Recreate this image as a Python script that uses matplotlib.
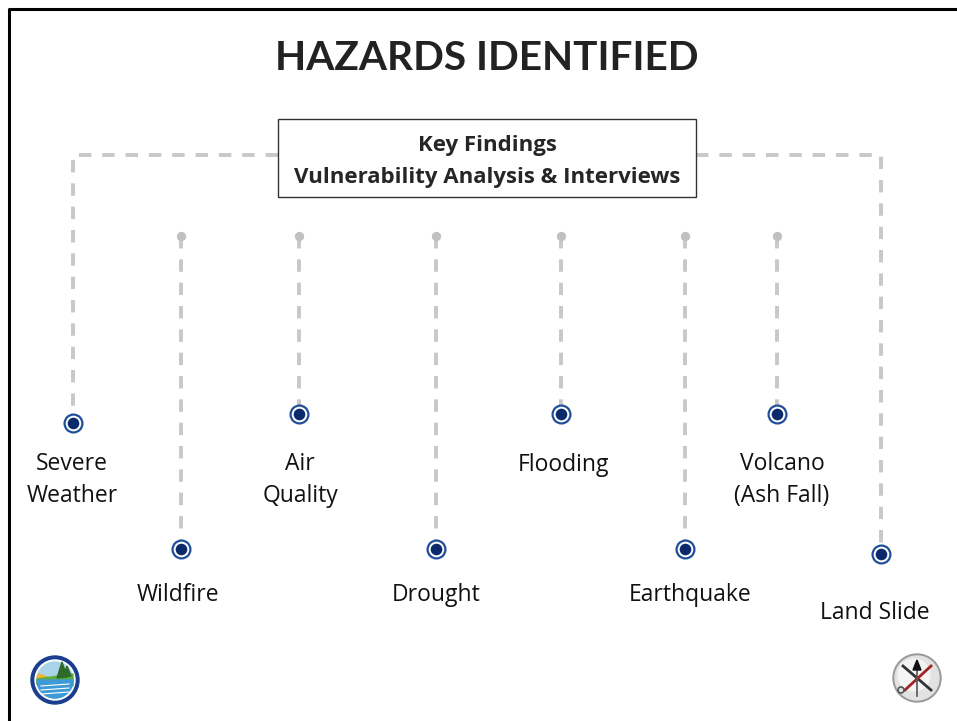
import matplotlib
matplotlib.use("Agg")
import matplotlib.pyplot as plt
from matplotlib.patches import Rectangle, Circle, Wedge, Polygon
import numpy as np

# ---- data ----
title = "HAZARDS IDENTIFIED"
box_lines = ["Key Findings", "Vulnerability Analysis & Interviews"]
hazards = ["Severe\nWeather", "Wildfire", "Air\nQuality", "Drought", "Flooding",
           "Earthquake", "Volcano\n(Ash Fall)", "Land Slide"]
hazard_x = [73, 181, 299, 436, 561, 685, 777, 881]
dot_y = [423, 549, 414, 549, 414, 549, 414, 554]
label_x = [72, 178, 300, 436, 564, 690, 782, 875]
label_y = [480, 595, 480, 595, 465, 595, 480, 613]
from_box = [True, False, False, False, False, False, False, True]
line_top = 236
branch_y = 155
box = (278, 119, 696, 197)

W, H = 957, 721
fig = plt.figure(figsize=(W / 100, H / 100), dpi=100)
ax = fig.add_axes([0, 0, 1, 1])
ax.set_xlim(0, W)
ax.set_ylim(H, 0)
ax.axis("off")

# slide border (left & top)
ax.plot([9, 9, W], [H, 9, 9], color="black", lw=2.2, solid_capstyle="butt")

ax.text(487, 58, title, ha="center", va="center", fontsize=29.2,
        fontweight="bold", family="Lato", color="#222222")

# box
x0, y0, x1, y1 = box
ax.add_patch(Rectangle((x0, y0), x1 - x0, y1 - y0, fill=False,
                       edgecolor="#333333", lw=1.0, zorder=3))
ax.text((x0 + x1) / 2, 145, box_lines[0], ha="center", va="center",
        fontsize=16, fontweight="bold", family="Open Sans", color="#262626")
ax.text((x0 + x1) / 2, 177, box_lines[1], ha="center", va="center",
        fontsize=16, fontweight="bold", family="Open Sans", color="#262626")

dash_kw = dict(color="#c8c8c8", lw=2.8, dashes=(3.2, 2.8), zorder=1)
for name, hx, dy, lx, ly, fb in zip(hazards, hazard_x, dot_y, label_x, label_y, from_box):
    if fb:
        bx = x0 if hx < x0 else x1
        ax.plot([bx, hx, hx], [branch_y, branch_y, dy], **dash_kw)
    else:
        ax.plot([hx, hx], [line_top, dy], **dash_kw)
        ax.scatter([hx], [line_top], s=45, color="#c0c0c0", zorder=2, linewidths=0)
    ax.scatter([hx], [dy], s=165, facecolor="white", edgecolor="#1f4e9a",
               linewidths=1.6, zorder=4)
    ax.scatter([hx], [dy], s=70, color="#0b2a6b", zorder=5, linewidths=0)
    ax.text(lx, ly, name, ha="center", va="center", fontsize=16.5,
            family="Open Sans", color="#111111", linespacing=1.45)

# left logo (landscape emblem)
cx, cy, r = 55, 680, 24
ax.add_patch(Circle((cx, cy), r, color="#1a3d8f", zorder=5))
ax.add_patch(Circle((cx, cy), r - 4, color="white", zorder=6))
ax.add_patch(Circle((cx, cy), r - 6, color="#a9d3e8", zorder=7))
ax.add_patch(Wedge((cx, cy), r - 6, 160, 200, color="#f2b233", zorder=7))
ax.add_patch(Polygon([[cx - 18, cy - 1], [cx + 18, cy - 6], [cx + 18, cy + 6], [cx - 18, cy + 4]],
                     closed=True, color="#5cae3a", zorder=8, clip_on=True))
ax.add_patch(Wedge((cx, cy), r - 6, 0, 180, color="#3d9ad6", zorder=8))
ax.add_patch(Polygon([[cx + 2, cy - 2], [cx + 7, cy - 18], [cx + 12, cy - 3]],
                     closed=True, color="#2e6b2a", zorder=9))
ax.add_patch(Polygon([[cx + 8, cy - 3], [cx + 12, cy - 14], [cx + 16, cy - 4]],
                     closed=True, color="#2e6b2a", zorder=9))
for k in range(3):
    ax.plot([cx - 14, cx + 14], [cy + 6 + 4 * k, cy + 4 + 4 * k], color="white", lw=0.8, zorder=9)

# right logo (tools emblem)
cx, cy, r = 917, 678, 24
ax.add_patch(Circle((cx, cy), r, color="#9a9a9a", zorder=5))
ax.add_patch(Circle((cx, cy), r - 2, color="#e2e2e2", zorder=6))
ax.add_patch(Circle((cx - 3, cy - 3), r - 8, color="#f4f4f4", zorder=6))
ax.plot([cx - 14, cx + 14], [cy - 12, cy + 12], color="#333333", lw=2, zorder=7)
ax.plot([cx - 12, cx + 14], [cy + 12, cy - 12], color="#a32424", lw=2, zorder=8)
ax.plot([cx, cx], [cy - 8, cy + 18], color="#555555", lw=1.2, zorder=8)
ax.add_patch(Polygon([[cx - 4, cy - 8], [cx, cy - 18], [cx + 4, cy - 8]], closed=True,
                     color="#111111", zorder=9))
ax.add_patch(Circle((cx - 16, cy + 12), 3, fill=False, edgecolor="#555555", lw=1.2, zorder=9))

fig.savefig("out.png", dpi=100)
